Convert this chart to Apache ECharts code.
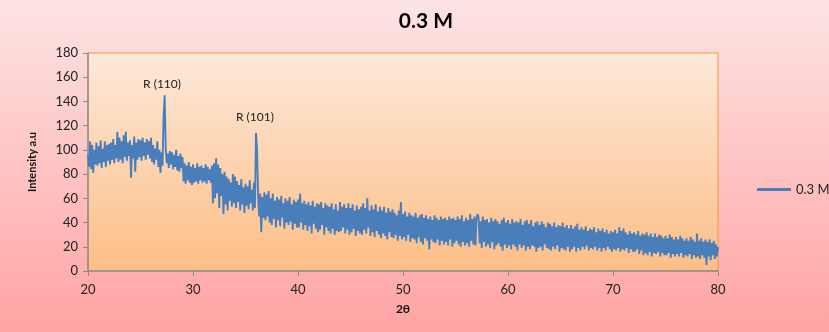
<!DOCTYPE html>
<html>
<head>
<meta charset="utf-8">
<script src="https://cdn.jsdelivr.net/npm/echarts@6/dist/echarts.min.js"></script>
<style>
  html, body { margin: 0; padding: 0; background: #fff; }
  #chart { width: 829px; height: 332px; }
</style>
</head>
<body>
<div id="chart"></div>
<script>
// 2θ sampling of the scan: 20° to 80° every 0.1°
const twoThetaStart = 20
const twoThetaStep = 0.1

// intensity (a.u.), one row per degree
const intensity = [
  96, 86, 107, 84, 104, 81, 100, 88, 106, 87,
  103, 89, 108, 85, 101, 90, 107, 86, 104, 91,
  105, 88, 106, 92, 109, 89, 104, 93, 115, 90,
  110, 92, 107, 89, 112, 94, 115, 91, 106, 95,
  108, 77, 104, 93, 111, 82, 106, 92, 109, 94,
  108, 91, 110, 95, 106, 92, 109, 96, 107, 93,
  110, 90, 104, 88, 101, 92, 107, 86, 100, 81,
  98, 87, 128, 145, 102, 89, 97, 85, 99, 88,
  98, 84, 96, 86, 100, 83, 95, 82, 97, 85,
  94, 74, 89, 72, 87, 75, 90, 73, 86, 71,
  88, 73, 85, 74, 89, 72, 86, 75, 87, 73,
  85, 74, 88, 72, 86, 75, 84, 73, 87, 56,
  89, 60, 93, 64, 88, 52, 85, 62, 80, 47,
  82, 55, 78, 50, 76, 58, 73, 53, 80, 56,
  78, 52, 74, 57, 71, 50, 76, 55, 69, 48,
  72, 54, 70, 51, 75, 56, 67, 50, 73, 52,
  114, 100, 62, 45, 64, 32, 61, 44, 65, 42,
  63, 45, 66, 40, 60, 38, 64, 43, 58, 36,
  61, 42, 59, 37, 62, 44, 56, 35, 60, 40,
  58, 38, 61, 41, 55, 34, 59, 39, 57, 36,
  59, 36, 64, 40, 56, 34, 58, 38, 55, 33,
  57, 37, 54, 31, 58, 39, 53, 35, 56, 32,
  55, 34, 57, 38, 52, 30, 56, 36, 54, 33,
  53, 31, 56, 35, 51, 30, 55, 33, 50, 32,
  57, 33, 53, 36, 55, 31, 52, 34, 56, 30,
  52, 32, 55, 35, 50, 29, 54, 33, 51, 31,
  53, 30, 56, 34, 52, 31, 60, 36, 50, 29,
  54, 32, 51, 28, 55, 33, 49, 30, 53, 27,
  50, 31, 53, 29, 48, 26, 52, 32, 49, 28,
  51, 27, 48, 30, 46, 25, 50, 29, 57, 26,
  47, 28, 49, 25, 45, 30, 48, 24, 46, 27,
  45, 26, 48, 23, 44, 28, 46, 24, 47, 22,
  44, 27, 46, 25, 43, 18, 45, 26, 42, 24,
  46, 23, 44, 26, 42, 21, 45, 25, 43, 22,
  44, 24, 42, 21, 45, 26, 43, 20, 44, 23,
  42, 25, 45, 22, 43, 20, 46, 24, 41, 21,
  44, 23, 42, 20, 47, 25, 43, 22, 45, 21,
  43, 47, 44, 23, 41, 19, 45, 24, 42, 20,
  43, 22, 40, 19, 44, 24, 41, 18, 43, 21,
  41, 23, 39, 20, 42, 17, 44, 22, 40, 19,
  42, 21, 39, 18, 43, 22, 40, 20, 41, 17,
  40, 22, 43, 19, 38, 21, 41, 17, 42, 20,
  39, 18, 42, 21, 37, 20, 40, 16, 41, 19,
  38, 20, 41, 17, 39, 22, 36, 19, 40, 18,
  39, 17, 37, 20, 40, 18, 36, 21, 38, 16,
  37, 19, 40, 18, 36, 17, 38, 20, 35, 16,
  38, 18, 35, 20, 37, 16, 39, 19, 34, 17,
  36, 20, 34, 18, 37, 21, 33, 17, 35, 19,
  34, 18, 36, 20, 32, 17, 35, 19, 33, 16,
  35, 19, 32, 17, 34, 20, 31, 18, 33, 16,
  32, 18, 34, 17, 31, 19, 36, 16, 33, 18,
  35, 17, 32, 19, 30, 15, 33, 18, 31, 16,
  32, 16, 30, 18, 33, 14, 29, 17, 31, 13,
  30, 15, 32, 13, 29, 16, 31, 12, 28, 15,
  31, 14, 28, 16, 30, 12, 29, 15, 27, 13,
  29, 13, 27, 15, 30, 11, 28, 14, 26, 12,
  28, 14, 26, 12, 29, 15, 27, 11, 25, 13,
  27, 12, 25, 14, 28, 10, 26, 13, 24, 11,
  31, 12, 25, 10, 27, 13, 24, 11, 26, 5,
  24, 12, 26, 9, 23, 13, 25, 10, 22, 12,
  20
]

// peak labels: [text, 2θ, y position of the label]
const peakLabels = [
  ['R (110)', 27.05, 154],
  ['R (101)', 35.9, 127]
]

const xTicks = { min: 20, max: 80, interval: 10 }
const yTicks = { min: 0, max: 180, interval: 20 }

const seriesName = '0.3 M'
const font = 'Lato, "Open Sans", sans-serif'

const points = intensity.map((v, i) => [
  +(twoThetaStart + i * twoThetaStep).toFixed(1), v
])

const chart = echarts.init(document.getElementById('chart'), null, { renderer: 'canvas' })

chart.setOption({
  animation: false,
  backgroundColor: new echarts.graphic.LinearGradient(0, 0, 0, 1, [
    { offset: 0, color: '#fde4e4' },
    { offset: 1, color: '#ffa3a3' }
  ]),
  textStyle: { fontFamily: font },
  title: {
    text: '0.3 M',
    left: 421,
    top: 6,
    textAlign: 'center',
    textStyle: { fontSize: 21, fontWeight: 'bold', color: '#000', fontFamily: font }
  },
  legend: {
    left: 752,
    top: 178,
    itemWidth: 34,
    itemHeight: 3,
    itemGap: 4,
    icon: 'rect',
    textStyle: { fontSize: 13, color: '#222', fontFamily: font },
    data: [seriesName]
  },
  grid: {
    left: 88,
    right: 111,
    top: 53,
    bottom: 61,
    show: true,
    borderColor: '#f79646',
    borderWidth: 1,
    backgroundColor: new echarts.graphic.LinearGradient(0, 0, 0, 1, [
      { offset: 0, color: '#fde9da' },
      { offset: 1, color: '#fcbe86' }
    ])
  },
  xAxis: {
    type: 'value',
    min: xTicks.min,
    max: xTicks.max,
    interval: xTicks.interval,
    name: '2θ',
    nameLocation: 'middle',
    nameGap: 32,
    nameTextStyle: { fontSize: 12, fontWeight: 'bold', color: '#111' },
    axisLine: { lineStyle: { color: '#8c8c8c', width: 1.5 } },
    axisTick: { show: true, length: 5, lineStyle: { color: '#8c8c8c' } },
    axisLabel: { fontSize: 13, color: '#222', margin: 12 },
    splitLine: { show: false }
  },
  yAxis: {
    type: 'value',
    min: yTicks.min,
    max: yTicks.max,
    interval: yTicks.interval,
    name: 'Intensity a.u',
    nameLocation: 'middle',
    nameGap: 50,
    nameRotate: 90,
    nameTextStyle: { fontSize: 11, fontWeight: 'bold', color: '#111' },
    axisLine: { show: true, lineStyle: { color: '#8c8c8c', width: 1.5 } },
    axisTick: { show: true, length: 5, lineStyle: { color: '#8c8c8c' } },
    axisLabel: { fontSize: 13, color: '#222', margin: 10 },
    splitLine: { show: false }
  },
  series: [
    {
      name: seriesName,
      type: 'line',
      showSymbol: false,
      symbol: 'none',
      lineStyle: { width: 1.9, color: '#4a7ebb' },
      itemStyle: { color: '#4a7ebb' },
      data: points,
      markPoint: {
        symbol: 'circle',
        symbolSize: 0,
        silent: true,
        label: {
          show: true,
          position: 'inside',
          formatter: (p) => p.name,
          fontSize: 12,
          color: '#222',
          fontFamily: font
        },
        data: peakLabels.map(([text, x, y]) => ({ name: text, coord: [x, y] }))
      }
    }
  ]
})
</script>
</body>
</html>
